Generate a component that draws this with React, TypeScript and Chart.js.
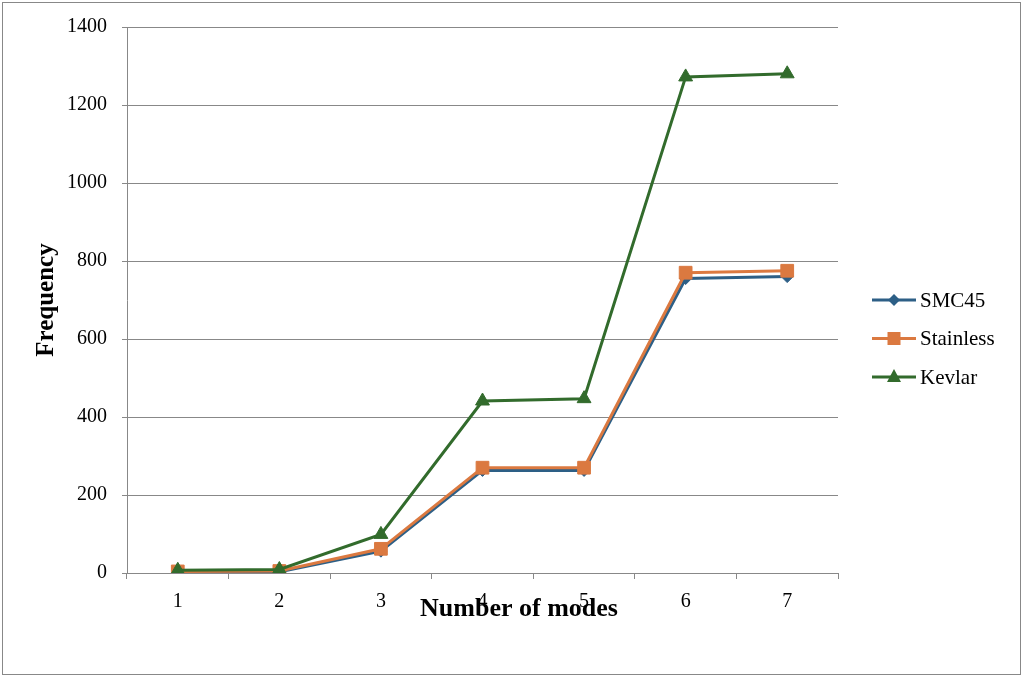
import React, { useEffect, useRef } from "react";
import { Chart, registerables } from "chart.js";

Chart.register(...registerables);

const categories = ["1", "2", "3", "4", "5", "6", "7"];
const smc45 = [2, 3, 56, 263, 263, 755, 760];
const stainless = [4, 5, 62, 270, 270, 770, 775];
const kevlar = [7, 9, 99, 441, 447, 1272, 1280];
const seriesNames = ["SMC45", "Stainless", "Kevlar"];
const yTicks = [0, 200, 400, 600, 800, 1000, 1200, 1400];
const xTitle = "Number of modes";
const yTitle = "Frequency";

const BLUE = "#2D5F86";
const ORANGE = "#DB7940";
const GREEN = "#326B2C";
const FONT = "'Liberation Serif', 'Times New Roman', serif";

const titlesAndLegend = {
  id: "titlesAndLegend",
  afterDraw(chart: any) {
    const ctx = chart.ctx;
    const area = chart.chartArea;
    ctx.save();
    // x title
    ctx.fillStyle = "#000";
    ctx.font = `bold 26px ${FONT}`;
    ctx.textAlign = "center";
    ctx.textBaseline = "middle";
    ctx.fillText(xTitle, 519, 609);
    // y title
    ctx.save();
    ctx.translate(47, (area.top + area.bottom) / 2);
    ctx.rotate(-Math.PI / 2);
    ctx.font = `bold 25px ${FONT}`;
    ctx.fillText(yTitle, 0, 0);
    ctx.restore();
    // legend
    chart.data.datasets.forEach((ds: any, i: number) => {
      const y = 300 + i * 38.5;
      ctx.strokeStyle = ds.borderColor;
      ctx.lineWidth = 3;
      ctx.beginPath();
      ctx.moveTo(872, y);
      ctx.lineTo(916, y);
      ctx.stroke();
      ctx.fillStyle = ds.backgroundColor;
      ctx.beginPath();
      if (ds.pointStyle === "rectRot") {
        const r = 6;
        ctx.moveTo(894, y - r);
        ctx.lineTo(894 + r, y);
        ctx.lineTo(894, y + r);
        ctx.lineTo(894 - r, y);
        ctx.closePath();
      } else if (ds.pointStyle === "rect") {
        ctx.rect(894 - 6.5, y - 6.5, 13, 13);
      } else {
        ctx.moveTo(894, y - 8);
        ctx.lineTo(894 + 7, y + 5);
        ctx.lineTo(894 - 7, y + 5);
        ctx.closePath();
      }
      ctx.fill();
      ctx.fillStyle = "#000";
      ctx.font = `21px ${FONT}`;
      ctx.textAlign = "left";
      ctx.textBaseline = "middle";
      ctx.fillText(seriesNames[i], 920, y + 1);
    });
    ctx.restore();
  },
};

export default function App() {
  const ref = useRef<HTMLCanvasElement | null>(null);
  useEffect(() => {
    document.body.style.margin = "0";
    if (!ref.current) return;
    const chart = new Chart(ref.current, {
      type: "line",
      data: {
        labels: categories,
        datasets: [
          {
            label: seriesNames[0],
            data: smc45,
            borderColor: BLUE,
            backgroundColor: BLUE,
            borderWidth: 3,
            pointStyle: "rectRot",
            pointRadius: 6,
            pointBorderWidth: 1,
            tension: 0,
            order: 2,
          },
          {
            label: seriesNames[1],
            data: stainless,
            borderColor: ORANGE,
            backgroundColor: ORANGE,
            borderWidth: 3,
            pointStyle: "rect",
            pointRadius: 9,
            pointBorderWidth: 1,
            tension: 0,
            order: 1,
          },
          {
            label: seriesNames[2],
            data: kevlar,
            borderColor: GREEN,
            backgroundColor: GREEN,
            borderWidth: 3,
            pointStyle: "triangle",
            pointRadius: 8,
            pointBorderWidth: 1,
            tension: 0,
            order: 0,
          },
        ],
      },
      options: {
        animation: false,
        responsive: false,
        maintainAspectRatio: false,
        layout: { padding: { top: 26, right: 188, left: 0, bottom: 0 } },
        plugins: {
          legend: { display: false },
          tooltip: { enabled: false },
          title: { display: false },
        },
        scales: {
          x: {
            type: "category",
            offset: true,
            afterFit: (s: any) => {
              s.height = 107;
            },
            grid: {
              display: true,
              offset: true,
              drawOnChartArea: false,
              drawTicks: true,
              tickLength: 6,
              color: "#888",
            },
            border: { display: true, color: "#888", width: 1 },
            ticks: {
              color: "#000",
              font: { family: FONT, size: 20 },
              padding: 11,
              maxRotation: 0,
            },
          },
          y: {
            min: 0,
            max: 1400,
            afterFit: (s: any) => {
              s.width = 127;
            },
            afterBuildTicks: (s: any) => {
              s.ticks = yTicks.map((v) => ({ value: v }));
            },
            grid: {
              color: "#888",
              lineWidth: 1,
              drawTicks: true,
              tickLength: 5,
            },
            border: { display: true, color: "#888", width: 1 },
            ticks: {
              color: "#000",
              font: { family: FONT, size: 20 },
              padding: 15,
              callback: (v: any) => String(v),
            },
          },
        },
      },
      plugins: [titlesAndLegend],
    });
    return () => chart.destroy();
  }, []);
  return (
    <div style={{ position: "relative", width: 1026, height: 680, background: "#fff" }}>
      <canvas ref={ref} width={1026} height={680} style={{ position: "absolute", left: 0, top: 0 }} />
      <div
        style={{
          position: "absolute",
          left: 2,
          top: 2,
          width: 1019,
          height: 673,
          boxSizing: "border-box",
          border: "1px solid #888",
          pointerEvents: "none",
        }}
      />
    </div>
  );
}
